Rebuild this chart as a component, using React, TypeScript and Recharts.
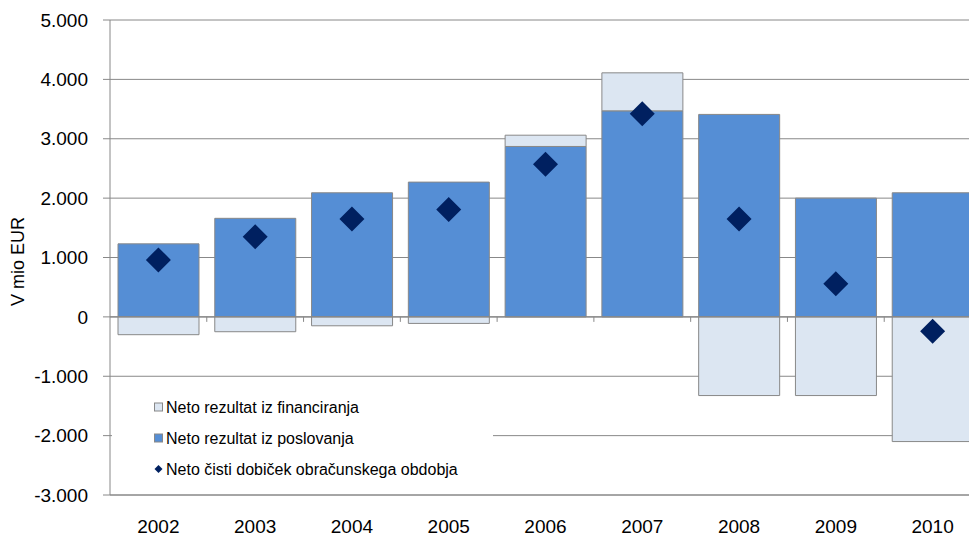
import React from "react";
import {
  ComposedChart, Bar, Line, XAxis, YAxis, CartesianGrid,
  ReferenceLine, Legend,
} from "recharts";

// leta in vrednosti (v mio EUR), odčitane z grafa
const YEARS = ["2002", "2003", "2004", "2005", "2006", "2007", "2008", "2009", "2010"];
const POSLOVANJE = [1230, 1660, 2090, 2270, 2870, 3470, 3410, 2000, 2090];
const FINANCIRANJE = [-300, -250, -150, -110, 190, 640, -1325, -1325, -2100];
const DOBICEK = [960, 1350, 1650, 1810, 2570, 3420, 1650, 560, -240];
const Y_TICKS = [-3000, -2000, -1000, 0, 1000, 2000, 3000, 4000, 5000];

const LEGEND_ITEMS = [
  { name: "Neto rezultat iz financiranja", key: "fin" },
  { name: "Neto rezultat iz poslovanja", key: "pos" },
  { name: "Neto čisti dobiček obračunskega obdobja", key: "dob" },
];

const FONT = '"Liberation Sans", Arial, sans-serif';
const GRID = "#888888";
const C_POS = "#558ed5";
const C_FIN = "#dce6f2";
const C_DOB = "#002060";

const data = YEARS.map((year, i) => ({
  year,
  poslovanje: POSLOVANJE[i],
  financiranje: FINANCIRANJE[i],
  dobicek: DOBICEK[i],
}));

const fmt = (v: number) => {
  const s = Math.abs(v).toString().replace(/\B(?=(\d{3})+(?!\d))/g, ".");
  return v < 0 ? "-" + s : s;
};

const Diamond = (props: any) => {
  const { cx, cy } = props;
  if (cx == null || cy == null) return null;
  const r = 12.5;
  return (
    <polygon
      points={`${cx},${cy - r} ${cx + r},${cy} ${cx},${cy + r} ${cx - r},${cy}`}
      fill={C_DOB}
    />
  );
};

// ničelna os s kratkimi oznakami med kategorijami
const ZeroAxis = (props: any) => {
  const { x1, y1, x2 } = props;
  const step = (x2 - x1) / YEARS.length;
  return (
    <g>
      <line x1={x1} y1={y1} x2={x2} y2={y1} stroke={GRID} strokeWidth={1.2} />
      {YEARS.map((_, i) => (
        <line
          key={i}
          x1={x1 + step * (i + 1)}
          x2={x1 + step * (i + 1)}
          y1={y1}
          y2={y1 + 5}
          stroke={GRID}
          strokeWidth={1}
        />
      ))}
    </g>
  );
};

const LegendBox = () => (
  <div
    style={{
      background: "#fff",
      width: 381,
      height: 100,
      paddingTop: 4,
      boxSizing: "border-box",
      fontFamily: FONT,
      fontSize: 16,
      color: "#000",
    }}
  >
    {LEGEND_ITEMS.map((it) => (
      <div
        key={it.key}
        style={{ height: 31, display: "flex", alignItems: "center", paddingLeft: 42 }}
      >
        <svg width={11} height={11} style={{ marginRight: 1 }}>
          {it.key === "dob" ? (
            <polygon points="4.5,1 8.5,5 4.5,9 0.5,5" fill={C_DOB} />
          ) : (
            <rect
              x={0.5}
              y={1}
              width={8}
              height={8}
              fill={it.key === "fin" ? C_FIN : C_POS}
              stroke={GRID}
              strokeWidth={1}
            />
          )}
        </svg>
        <span>{it.name}</span>
      </div>
    ))}
  </div>
);

const YLabel = (props: any) => {
  const vb = props.viewBox || {};
  const cx = 18;
  const cy = vb.y + vb.height / 2 + 4;
  return (
    <text
      x={cx}
      y={cy}
      transform={`rotate(-90, ${cx}, ${cy})`}
      textAnchor="middle"
      dominantBaseline="central"
      fontFamily={FONT}
      fontSize={18}
      fill="#000"
    >
      V mio EUR
    </text>
  );
};

export default function App() {
  return (
    <div
      style={{
        position: "absolute",
        left: 0,
        top: 0,
        width: 969,
        height: 536,
        overflow: "hidden",
        background: "#fff",
      }}
    >
      <ComposedChart
        width={981}
        height={536}
        data={data}
        stackOffset="sign"
        margin={{ top: 20, right: 0, bottom: 0, left: 0 }}
      >
        <CartesianGrid horizontal vertical={false} stroke={GRID} strokeWidth={1} />
        <XAxis
          dataKey="year"
          height={41}
          axisLine={{ stroke: GRID }}
          tickLine={false}
          tickSize={0}
          tickMargin={25}
          interval={0}
          tick={{ fill: "#000", fontSize: 19, fontFamily: FONT }}
        />
        <YAxis
          width={110}
          domain={[-3000, 5000]}
          ticks={Y_TICKS}
          tickFormatter={fmt}
          axisLine={{ stroke: GRID }}
          tickLine={{ stroke: GRID }}
          tickSize={7}
          tickMargin={15}
          tick={{ fill: "#000", fontSize: 19, fontFamily: FONT }}
          label={{ content: YLabel }}
        />
        <ReferenceLine y={0} shape={ZeroAxis} />
        <Bar
          dataKey="poslovanje"
          name="Neto rezultat iz poslovanja"
          stackId="a"
          fill={C_POS}
          stroke={GRID}
          strokeWidth={1}
          barSize={81}
          isAnimationActive={false}
        />
        <Bar
          dataKey="financiranje"
          name="Neto rezultat iz financiranja"
          stackId="a"
          fill={C_FIN}
          stroke={GRID}
          strokeWidth={1}
          barSize={81}
          isAnimationActive={false}
        />
        <Line
          dataKey="dobicek"
          name="Neto čisti dobiček obračunskega obdobja"
          stroke="none"
          dot={<Diamond />}
          activeDot={false}
          isAnimationActive={false}
        />
        <Legend
          content={<LegendBox />}
          layout="vertical"
          align="center"
          verticalAlign="middle"
          wrapperStyle={{ left: 112, top: 388, width: 381, bottom: "auto", right: "auto" }}
        />
      </ComposedChart>
    </div>
  );
}
